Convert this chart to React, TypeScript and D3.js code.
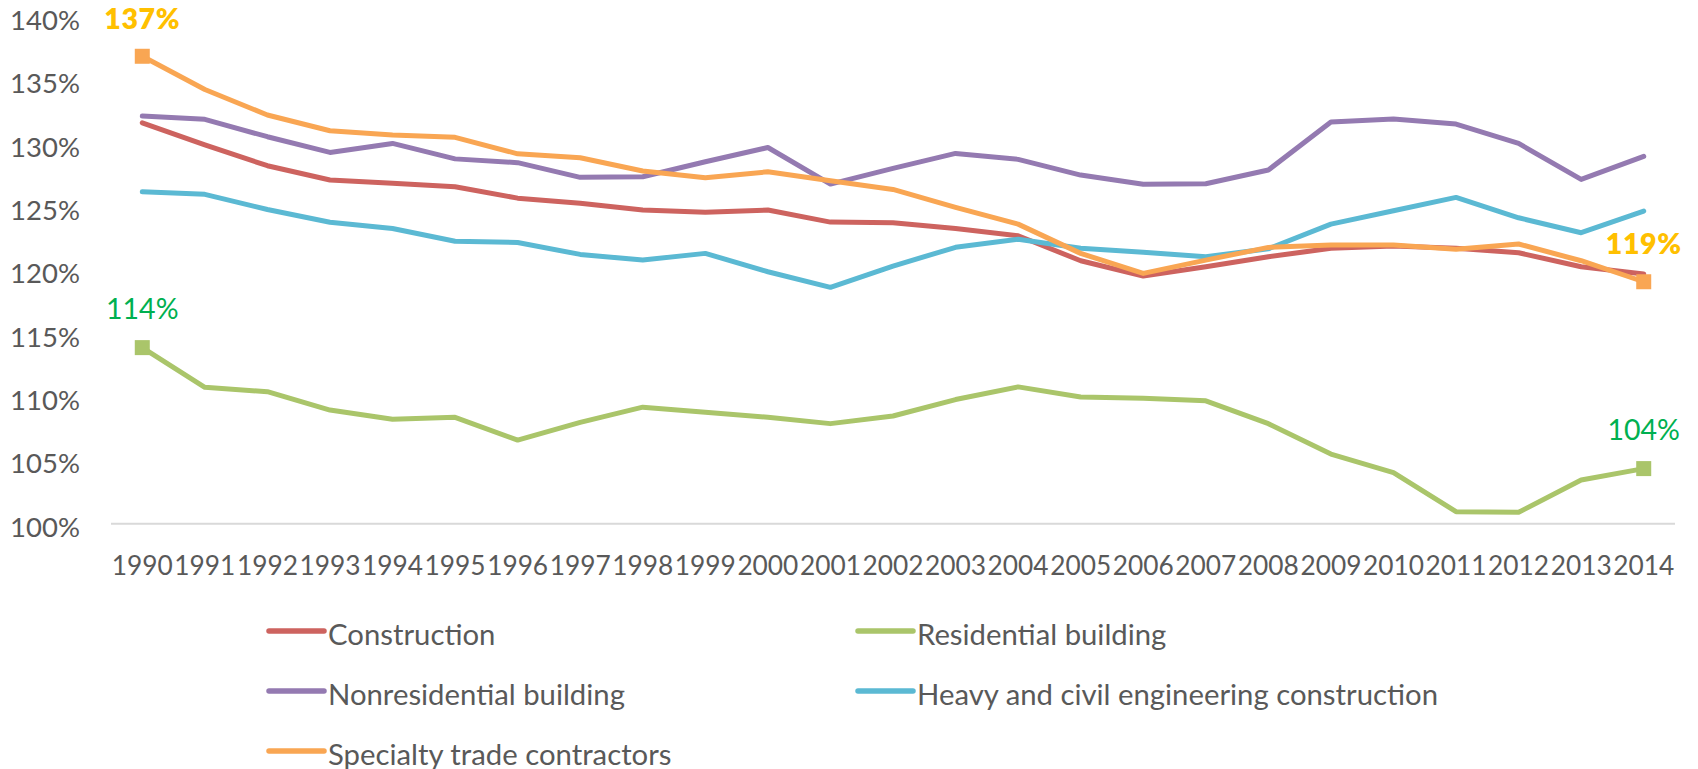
import React from "react";
import * as d3 from "d3";

const years = ["1990","1991","1992","1993","1994","1995","1996","1997","1998","1999","2000","2001","2002","2003","2004","2005","2006","2007","2008","2009","2010","2011","2012","2013","2014"];

const construction = [131.65,129.9,128.26,127.13,126.87,126.6,125.7,125.29,124.76,124.58,124.76,123.81,123.76,123.31,122.73,120.76,119.55,120.28,121.07,121.74,121.92,121.74,121.39,120.28,119.71];
const residential = [113.9,110.77,110.42,108.97,108.24,108.4,106.6,108.0,109.2,108.8,108.4,107.9,108.5,109.8,110.8,110.0,109.9,109.7,107.9,105.5,104.03,100.95,100.9,103.45,104.35];
const nonresidential = [132.18,131.92,130.55,129.31,130.02,128.8,128.5,127.34,127.39,128.57,129.7,126.81,128.05,129.23,128.76,127.52,126.79,126.84,127.92,131.71,131.94,131.55,130.02,127.18,129.0];
const heavyCivil = [126.2,126.0,124.8,123.8,123.3,122.3,122.2,121.26,120.81,121.34,119.89,118.66,120.34,121.82,122.45,121.74,121.42,121.07,121.7,123.65,124.71,125.76,124.15,122.97,124.68];
const specialty = [136.9,134.28,132.26,131.02,130.68,130.5,129.2,128.89,127.84,127.31,127.78,127.07,126.39,124.97,123.65,121.34,119.76,120.81,121.81,122.0,122.0,121.66,122.08,120.76,119.1];

const yTicks = [100, 105, 110, 115, 120, 125, 130, 135, 140];

const seriesNames = ["Construction", "Residential building", "Nonresidential building", "Heavy and civil engineering construction", "Specialty trade contractors"];
const seriesColors = ["#CD635F", "#AAC56A", "#947AB1", "#5BB9D3", "#F9A653"];
const seriesValues = [construction, residential, nonresidential, heavyCivil, specialty];

const annotations = [
  { series: 4, index: 0, text: "137%", color: "#FFC000", bold: true },
  { series: 4, index: 24, text: "119%", color: "#FFC000", bold: true },
  { series: 1, index: 0, text: "114%", color: "#00B050", bold: false },
  { series: 1, index: 24, text: "104%", color: "#00B050", bold: false },
];

const W = 1698;
const H = 769;
const FONT = "Lato, 'Open Sans', sans-serif";
const TEXT = "#595959";

export default function App() {
  const x = d3.scaleBand<string>().domain(years).range([111, 1675]).padding(0);
  const cx = (i: number) => (x(years[i]) as number) + x.bandwidth() / 2;
  const y = d3.scaleLinear().domain([100, 140]).range([523.7, 17]);
  const line = d3
    .line<number>()
    .x((_, i) => cx(i))
    .y((d) => y(d));

  const legendItems = seriesNames.map((name, i) => {
    const col = i % 2;
    const row = Math.floor(i / 2);
    return { name, color: seriesColors[i], lx: col === 0 ? 269 : 858, ly: 631 + row * 60 };
  });

  const markerSize = 15;

  return (
    <svg width={W} height={H} style={{ position: "absolute", left: 0, top: 0, background: "#fff" }} fontFamily={FONT}>
      <rect x={0} y={0} width={W} height={H} fill="#fff" />
      <line x1={111} x2={1675} y1={y(100)} y2={y(100)} stroke="#D9D9D9" strokeWidth={2} />
      {yTicks.map((t) => (
        <text key={t} x={80} y={y(t) + 13} textAnchor="end" fontSize={27.5} fill={TEXT}>
          {t}%
        </text>
      ))}
      {years.map((yr, i) => (
        <text key={yr} x={cx(i)} y={575} textAnchor="middle" fontSize={27} fill={TEXT} textLength={61} lengthAdjust="spacingAndGlyphs">
          {yr}
        </text>
      ))}
      {seriesValues.map((vals, s) => (
        <path key={s} d={line(vals) || ""} fill="none" stroke={seriesColors[s]} strokeWidth={5} strokeLinejoin="round" strokeLinecap="round" />
      ))}
      {annotations.map((a, k) => {
        const px = cx(a.index);
        const py = y(seriesValues[a.series][a.index]);
        return (
          <g key={k}>
            <rect x={px - markerSize / 2} y={py - markerSize / 2} width={markerSize} height={markerSize} fill={seriesColors[a.series]} />
            <text
              x={px}
              y={py - (a.bold ? 27.5 : 29)}
              textAnchor="middle"
              fontSize={28.5}
              fontWeight={a.bold ? 800 : 400}
              letterSpacing={a.bold ? 0.6 : 0}
              fill={a.color}
              style={{ fontWeight: a.bold ? 800 : 400 }}
            >
              {a.text}
            </text>
          </g>
        );
      })}
      {legendItems.map((it) => (
        <g key={it.name}>
          <line x1={it.lx} x2={it.lx + 55} y1={it.ly} y2={it.ly} stroke={it.color} strokeWidth={5.5} strokeLinecap="round" />
          <text x={it.lx + 59} y={it.ly + 13.5} fontSize={29.3} fill={TEXT}>
            {it.name}
          </text>
        </g>
      ))}
    </svg>
  );
}
